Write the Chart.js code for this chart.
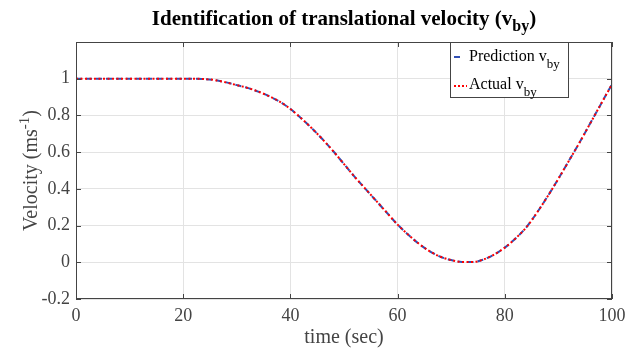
<!DOCTYPE html>
<html>
<head>
<meta charset="utf-8">
<script src="https://cdn.jsdelivr.net/npm/chart.js@4"></script>
<style>
  body { margin: 0; background: #fff; }
  canvas { display: block; }
</style>
</head>
<body>
<canvas id="chart" width="643" height="351"></canvas>
<script>
const timeSec = [0, 2, 4, 6, 8, 10, 12, 14, 16, 18, 20, 22, 24, 26, 28, 30, 32, 34, 36, 38,
  40, 42, 44, 46, 48, 50, 52, 54, 56, 58, 60, 62, 64, 66, 68, 70, 72, 74, 76, 78,
  80, 82, 84, 86, 88, 90, 92, 94, 96, 98, 100];

const predictionVby = [1, 1, 1, 1, 1, 1, 1, 1, 1, 1, 1, 1, 0.998, 0.992, 0.98, 0.965, 0.95, 0.93, 0.905, 0.875,
  0.835, 0.785, 0.73, 0.67, 0.605, 0.535, 0.465, 0.4, 0.335, 0.27, 0.205, 0.15, 0.1, 0.06, 0.03, 0.012, 0.002, 0.001, 0.015, 0.042,
  0.08, 0.13, 0.19, 0.27, 0.36, 0.455, 0.555, 0.655, 0.76, 0.865, 0.97];

const actualVby = [1, 1, 1, 1, 1, 1, 1, 1, 1, 1, 1, 1, 0.998, 0.992, 0.98, 0.965, 0.95, 0.93, 0.905, 0.875,
  0.835, 0.785, 0.73, 0.67, 0.605, 0.535, 0.465, 0.4, 0.335, 0.27, 0.205, 0.15, 0.1, 0.06, 0.03, 0.012, 0.002, 0.001, 0.015, 0.042,
  0.08, 0.13, 0.19, 0.27, 0.36, 0.455, 0.555, 0.655, 0.76, 0.865, 0.97];

const xTicks = [0, 20, 40, 60, 80, 100];
const yTicks = [-0.2, 0, 0.2, 0.4, 0.6, 0.8, 1];

const SERIF = '"Liberation Serif", "Times New Roman", serif';
const AXIS_COLOR = '#444444';
const BLUE = '#3150b4';
const RED = '#ff0000';

// draws text pieces in a row; each piece may be raised or lowered
function drawRich(ctx, parts, x, y, align) {
  let total = 0;
  parts.forEach(p => { ctx.font = p.font; total += ctx.measureText(p.text).width; });
  let cx = align === 'center' ? x - total / 2 : x;
  parts.forEach(p => {
    ctx.font = p.font;
    ctx.fillText(p.text, cx, y + (p.dy || 0));
    cx += ctx.measureText(p.text).width;
  });
}

const decorPlugin = {
  id: 'decor',
  afterDraw(chart) {
    const ctx = chart.ctx;
    const a = chart.chartArea;
    const xs = chart.scales.x;
    const ys = chart.scales.y;
    ctx.save();

    // box
    ctx.strokeStyle = AXIS_COLOR;
    ctx.lineWidth = 1;
    ctx.strokeRect(a.left + 0.5, a.top + 0.5, a.right - a.left - 1, a.bottom - a.top - 1);

    // inward ticks on all four sides
    ctx.beginPath();
    xTicks.forEach(v => {
      const px = Math.round(xs.getPixelForValue(v)) + 0.5;
      ctx.moveTo(px, a.bottom); ctx.lineTo(px, a.bottom - 5);
      ctx.moveTo(px, a.top); ctx.lineTo(px, a.top + 5);
    });
    yTicks.forEach(v => {
      const py = Math.round(ys.getPixelForValue(v)) + 0.5;
      ctx.moveTo(a.left, py); ctx.lineTo(a.left + 5, py);
      ctx.moveTo(a.right, py); ctx.lineTo(a.right - 5, py);
    });
    ctx.stroke();

    ctx.fillStyle = '#000';
    ctx.textBaseline = 'alphabetic';
    ctx.textAlign = 'left';

    // title
    const cx = (a.left + a.right) / 2;
    drawRich(ctx, [
      { text: 'Identification of translational velocity (v', font: 'bold 21px ' + SERIF },
      { text: 'by', font: 'bold 16px ' + SERIF, dy: 6 },
      { text: ')', font: 'bold 21px ' + SERIF }
    ], cx, 25, 'center');

    // axis titles
    ctx.fillStyle = AXIS_COLOR;
    drawRich(ctx, [{ text: 'time (sec)', font: '20px ' + SERIF }], cx, 343, 'center');

    ctx.save();
    ctx.translate(37, (a.top + a.bottom) / 2);
    ctx.rotate(-Math.PI / 2);
    drawRich(ctx, [
      { text: 'Velocity (ms', font: '20px ' + SERIF },
      { text: '-1', font: '15px ' + SERIF, dy: -8 },
      { text: ')', font: '20px ' + SERIF }
    ], 0, 0, 'center');
    ctx.restore();

    // legend
    const lx = 450, ly = a.top, lw = 118, lh = 55;
    ctx.fillStyle = '#fff';
    ctx.fillRect(lx, ly, lw, lh);
    ctx.strokeStyle = AXIS_COLOR;
    ctx.strokeRect(lx + 0.5, ly + 0.5, lw, lh);

    ctx.lineWidth = 2;
    ctx.strokeStyle = BLUE;
    ctx.setLineDash([6, 4]);
    ctx.beginPath(); ctx.moveTo(454, 57); ctx.lineTo(464, 57); ctx.stroke();
    ctx.strokeStyle = RED;
    ctx.setLineDash([2, 2]);
    ctx.beginPath(); ctx.moveTo(454, 86); ctx.lineTo(467, 86); ctx.stroke();
    ctx.setLineDash([]);

    ctx.fillStyle = '#000';
    drawRich(ctx, [
      { text: 'Prediction v', font: '16px ' + SERIF },
      { text: 'by', font: '13px ' + SERIF, dy: 7 }
    ], 469, 61, 'left');
    drawRich(ctx, [
      { text: 'Actual v', font: '16px ' + SERIF },
      { text: 'by', font: '13px ' + SERIF, dy: 7 }
    ], 469, 89, 'left');

    ctx.restore();
  }
};

new Chart(document.getElementById('chart'), {
  type: 'line',
  data: {
    labels: timeSec,
    datasets: [
      {
        label: 'Prediction v_by',
        data: timeSec.map((t, i) => ({ x: t, y: predictionVby[i] })),
        borderColor: BLUE,
        borderWidth: 2,
        borderDash: [6, 4],
        pointRadius: 0,
        cubicInterpolationMode: 'monotone',
        order: 2
      },
      {
        label: 'Actual v_by',
        data: timeSec.map((t, i) => ({ x: t, y: actualVby[i] })),
        borderColor: RED,
        borderWidth: 2,
        borderDash: [2, 2.5],
        pointRadius: 0,
        cubicInterpolationMode: 'monotone',
        order: 1
      }
    ]
  },
  options: {
    responsive: false,
    animation: false,
    layout: { padding: { left: 0, top: 42, right: 31, bottom: 0 } },
    plugins: {
      legend: { display: false },
      title: { display: false },
      tooltip: { enabled: false }
    },
    scales: {
      x: {
        type: 'linear',
        min: 0,
        max: 100,
        afterBuildTicks: s => { s.ticks = xTicks.map(v => ({ value: v })); },
        afterFit: s => { s.height = 52; },
        grid: { color: '#e3e3e3', drawTicks: false },
        border: { display: false },
        ticks: {
          padding: 6,
          color: AXIS_COLOR,
          font: { family: SERIF, size: 18 },
          maxRotation: 0
        }
      },
      y: {
        min: -0.2,
        max: 1.2,
        afterBuildTicks: s => { s.ticks = yTicks.map(v => ({ value: v })); },
        afterFit: s => { s.width = 76; },
        grid: { color: '#e3e3e3', drawTicks: false },
        border: { display: false },
        ticks: {
          padding: 6,
          color: AXIS_COLOR,
          font: { family: SERIF, size: 18 },
          callback: v => String(Math.round(v * 10) / 10)
        }
      }
    }
  },
  plugins: [decorPlugin]
});
</script>
</body>
</html>
